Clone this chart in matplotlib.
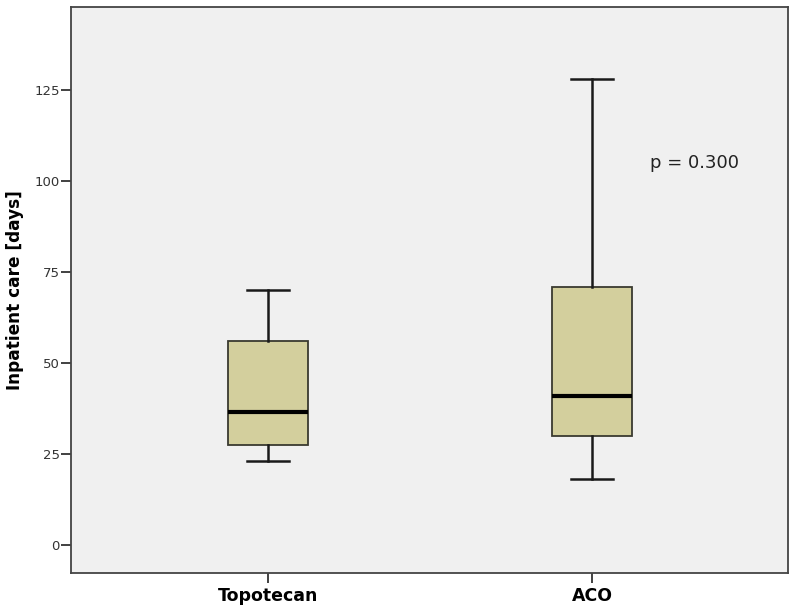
import matplotlib.pyplot as plt

# box statistics (days)
groups = ['Topotecan', 'ACO']
whisker_low = [23, 18]
q1 = [27.5, 30]
median = [36.5, 41]
q3 = [56, 71]
whisker_high = [70, 128]
p_text = 'p = 0.300'

stats = []
for i, name in enumerate(groups):
    stats.append({'label': name, 'whislo': whisker_low[i], 'q1': q1[i],
                  'med': median[i], 'q3': q3[i], 'whishi': whisker_high[i]})

fig = plt.figure(figsize=(7.92, 6.13), dpi=100)
ax = fig.add_axes([0.0896, 0.0653, 0.9053, 0.9233])
ax.set_facecolor('#f0f0f0')

ax.bxp(stats, positions=[1, 2], widths=0.247, patch_artist=True,
       showfliers=False,
       boxprops=dict(facecolor='#d3cf9d', edgecolor='#3a3a30', linewidth=1.3),
       medianprops=dict(color='black', linewidth=3),
       whiskerprops=dict(color='#1a1a1a', linewidth=1.8),
       capprops=dict(color='#1a1a1a', linewidth=1.8),
       capwidths=0.127)

ax.set_xlim(0.392, 2.605)
ax.set_ylim(-7.7, 147.8)
ax.set_yticks([0, 25, 50, 75, 100, 125])
ax.set_xticks([1, 2])
ax.set_xticklabels(groups, fontsize=12.5, fontweight='bold')
ax.tick_params(axis='y', labelsize=9.5, labelcolor='#333333', length=7, width=1.3,
               color='#333333', pad=1)
ax.tick_params(axis='x', length=7, width=1.3, color='#333333', pad=3)
for s in ax.spines.values():
    s.set_color('#444444')
    s.set_linewidth(1.3)

ax.set_ylabel('Inpatient care [days]', fontsize=12.2, fontweight='bold')
ax.yaxis.set_label_coords(-0.066, 0.5)
ax.text(2.18, 105, p_text, fontsize=13, color='#222222', va='center', ha='left')

fig.savefig('out.png', dpi=100, facecolor='white')
